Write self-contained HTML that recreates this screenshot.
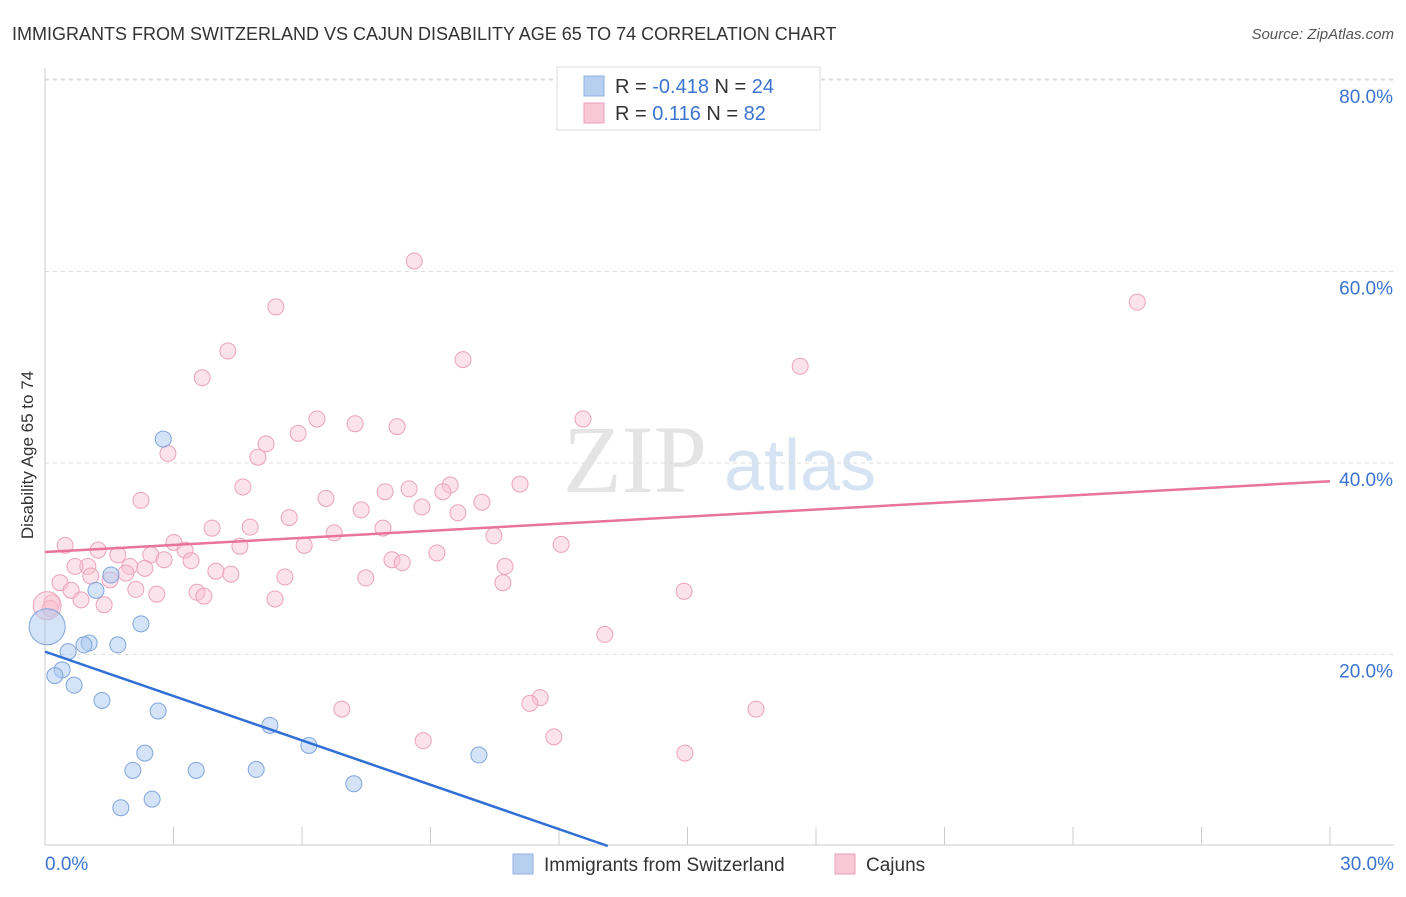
<!DOCTYPE html>
<html><head><meta charset="utf-8"><style>
body{margin:0;background:#fff;font-family:"Liberation Sans",sans-serif;}
svg text{font-family:"Liberation Sans",sans-serif;}
</style></head><body>
<svg width="1406" height="892" xmlns="http://www.w3.org/2000/svg">
<text x="12" y="40" font-size="18" fill="#333">IMMIGRANTS FROM SWITZERLAND VS CAJUN DISABILITY AGE 65 TO 74 CORRELATION CHART</text>
<text x="1394" y="39" font-size="15" fill="#555" text-anchor="end" font-style="italic">Source: ZipAtlas.com</text>
<text transform="translate(33,455) rotate(-90)" font-size="17" fill="#333" text-anchor="middle">Disability Age 65 to 74</text>
<g><text x="635" y="492" font-size="96" fill="#e4e4e4" text-anchor="middle" font-family="Liberation Serif" style="font-family:'Liberation Serif',serif">ZIP</text><text x="800" y="490" font-size="72" fill="#d5e3f3" text-anchor="middle">atlas</text></g>
<g id="grid"></g><g id="axes"></g><g id="pts"></g><g id="lines"></g>
<g>
<rect x="557" y="67" width="263" height="63" fill="#fff" stroke="#ddd"/>
<rect x="584" y="76" width="20" height="20" fill="#b8d0f0" stroke="#8fb0e0"/>
<rect x="584" y="103" width="20" height="20" fill="#f8c8d6" stroke="#eaa0b8"/>
<text x="615" y="93" font-size="20" fill="#333">R = <tspan fill="#3b74d0">-0.418</tspan>   N = <tspan fill="#3b74d0">24</tspan></text>
<text x="615" y="120" font-size="20" fill="#333">R =   <tspan fill="#3b74d0">0.116</tspan>   N = <tspan fill="#3b74d0">82</tspan></text>
</g>
<g>
<rect x="513" y="854" width="20" height="20" fill="#b8d0f0" stroke="#8fb0e0"/>
<text x="544" y="871" font-size="19" fill="#333">Immigrants from Switzerland</text>
<rect x="835" y="854" width="20" height="20" fill="#f8c8d6" stroke="#eaa0b8"/>
<text x="866" y="871" font-size="19" fill="#333">Cajuns</text>
</g>
</svg>
<script>
const yTicks=[20,40,60,80];
const yTickLabels=["20.0%","40.0%","60.0%","80.0%"];
const xTickLabels=["0.0%","30.0%"];
const blueX=[2.76,1.54,1.19,2.24,1.03,0.91,1.70,0.54,0.40,0.23,0.68,1.33,2.64,5.25,6.16,2.33,2.05,3.53,4.93,10.13,7.21,2.50,1.77,0.05];
const blueY=[42.5,28.3,26.7,23.2,21.2,21.0,21.0,20.3,18.4,17.8,16.8,15.2,14.1,12.6,10.5,9.7,7.9,7.9,8.0,9.5,6.5,4.9,4.0,22.9];
const blueR=[8,8,8,8,8,8,8,8,8,8,8,8,8,8,8,8,8,8,8,8,8,8,8,18];
const pinkX=[8.62,5.39,25.50,4.27,9.76,3.67,17.63,6.35,12.56,7.24,8.22,5.91,5.16,2.87,4.97,4.62,2.24,11.09,7.94,8.50,9.46,9.29,6.56,10.20,7.38,8.80,9.64,5.70,3.90,4.79,7.89,6.75,10.48,3.01,0.47,4.55,6.05,12.05,1.24,3.27,9.15,1.70,2.47,2.78,3.41,8.10,8.34,1.98,1.00,0.70,10.74,2.33,3.99,4.34,1.89,1.07,7.49,5.60,1.52,0.35,10.69,2.12,0.61,3.55,3.71,2.61,14.92,5.37,0.84,1.38,0.16,0.12,13.07,11.56,11.32,6.93,16.60,8.83,11.88,14.94,0.05];
const pinkY=[61.1,56.3,56.8,51.7,50.8,48.9,50.1,44.6,44.6,44.1,43.8,43.1,42.0,41.0,40.6,37.5,36.1,37.8,37.0,37.3,37.7,37.0,36.3,35.9,35.1,35.4,34.8,34.3,33.2,33.3,33.2,32.7,32.4,31.7,31.4,31.3,31.4,31.5,30.9,30.9,30.6,30.4,30.4,29.9,29.8,29.9,29.6,29.2,29.2,29.2,29.2,29.0,28.7,28.4,28.5,28.2,28.0,28.1,27.8,27.5,27.5,26.8,26.7,26.5,26.1,26.3,26.6,25.8,25.7,25.2,25.4,24.8,22.1,15.5,14.9,14.3,14.3,11.0,11.4,9.7,25.1];
const blueLine=[20.3,0,13.14];   // y at x=0, y end, x end
const pinkLine=[30.7,38.1];       // y at x=0, y at x=30
const NS="http://www.w3.org/2000/svg";
const X0=45,X1=1330,XMAX=30,Y0=846,PXPER=9.575;
function sx(v){return X0+(X1-X0)*v/XMAX;}
function sy(v){return Y0-v*PXPER;}
function mk(tag,attrs,parent){const e=document.createElementNS(NS,tag);for(const k in attrs)e.setAttribute(k,attrs[k]);document.getElementById(parent).appendChild(e);return e;}
yTicks.forEach((t,i)=>{
  const g=mk('line',{x1:45,x2:1394,y1:sy(t),y2:sy(t),stroke:'#ddd','stroke-dasharray':'4,4'},'grid');
  
  
  const l=mk('text',{x:1393,y:sy(t)+23,'font-size':19,fill:'#3b74d0','text-anchor':'end'},'axes');
  l.textContent=yTickLabels[i];
  
  
});
const tg=mk('line',{x1:45,x2:1394,y1:79,y2:79,stroke:'#ddd','stroke-dasharray':'4,4'},'grid');
const ax=mk('line',{x1:45,x2:1394,y1:845,y2:845,stroke:'#ccc'},'axes');


const ay=mk('line',{x1:45,x2:45,y1:68,y2:845,stroke:'#ccc'},'axes');


for(let i=1;i<=10;i++){const x=X0+(X1-X0)*i/10;const t=mk('line',{x1:x,x2:x,y1:827,y2:845,stroke:'#ccc'},'axes');}
[[0,'start',45],[30,'end',1394]].forEach((d,i)=>{const t=mk('text',{x:d[2],y:870,'font-size':19,fill:'#3b74d0','text-anchor':d[1]},'axes');t.textContent=xTickLabels[i];});
pinkX.forEach((v,i)=>{
  const c=mk('circle',{cx:sx(v),cy:sy(pinkY[i]),r:i===pinkX.length-1?14:8,fill:'rgba(248,190,208,0.45)',stroke:'#eba3bb','stroke-width':1},'pts');
  
  
});
blueX.forEach((v,i)=>{
  const c=mk('circle',{cx:sx(v),cy:sy(blueY[i]),r:blueR[i],fill:'rgba(170,200,240,0.5)',stroke:'#7fa6dc','stroke-width':1},'pts');
  
  
});
const pl=mk('line',{x1:sx(0),y1:sy(pinkLine[0]),x2:sx(30),y2:sy(pinkLine[1]),stroke:'#e8739b','stroke-width':2.5},'lines');


const bl=mk('line',{x1:sx(0),y1:sy(blueLine[0]),x2:sx(blueLine[2]),y2:sy(blueLine[1]),stroke:'#2f6fd6','stroke-width':2.5},'lines');


</script>
</body></html>
